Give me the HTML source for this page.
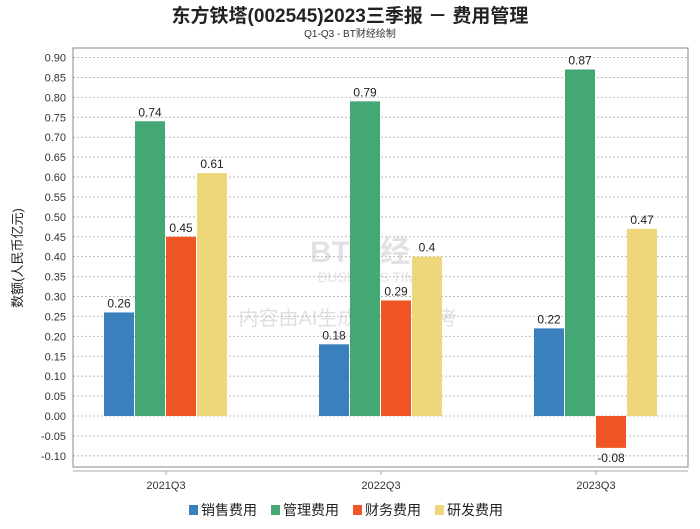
<!DOCTYPE html>
<html><head><meta charset="utf-8"><style>
body{margin:0;background:#fff;font-family:"Liberation Sans","Noto Sans CJK SC",sans-serif}
</style></head><body>
<svg id="c" width="700" height="524" xmlns="http://www.w3.org/2000/svg" font-family="Liberation Sans, Noto Sans CJK SC, sans-serif">
<text x="350" y="22" text-anchor="middle" font-size="19" font-weight="bold" fill="#222">东方铁塔(002545)2023三季报 － 费用管理</text>
<text x="350" y="37" text-anchor="middle" font-size="10" fill="#333">Q1-Q3 - BT财经绘制</text>
<text transform="translate(22,258) rotate(-90)" text-anchor="middle" font-size="13" fill="#222">数额(人民币亿元)</text>
<g opacity="0.18"><text x="310" y="262" font-size="30" font-weight="bold" fill="#667">BT财经</text><text x="318" y="282" font-size="14" fill="#667">BUSINESS TIMES</text><text x="348" y="325" text-anchor="middle" font-size="20" fill="#555">内容由AI生成，仅供参考</text></g>
<g id="grid"></g><g id="bars"></g>
<rect x="73" y="48" width="615" height="419" fill="none" stroke="#888"/>
<line x1="73" y1="471" x2="688" y2="471" stroke="#aaa"/>
<g id="legend"></g>
</svg>
<script>
const categories=["2021Q3","2022Q3","2023Q3"];
const seriesNames=["销售费用","管理费用","财务费用","研发费用"];
const colors=["#3a80bd","#44a874","#f05526","#edd77a"];
const sales=[0.26,0.18,0.22];
const admin=[0.74,0.79,0.87];
const finance=[0.45,0.29,-0.08];
const rnd=[0.61,0.4,0.47];
const labels=[["0.26","0.18","0.22"],["0.74","0.79","0.87"],["0.45","0.29","-0.08"],["0.61","0.4","0.47"]];
const ticks=[0.9,0.85,0.8,0.75,0.7,0.65,0.6,0.55,0.5,0.45,0.4,0.35,0.3,0.25,0.2,0.15,0.1,0.05,0,-0.05,-0.1];
const series=[sales,admin,finance,rnd];
const NS="http://www.w3.org/2000/svg";
const y=v=>416-v*398.3;
const xc=i=>166+i*215;
function mk(t,a,p){const e=document.createElementNS(NS,t);for(const k in a)e.setAttribute(k,a[k]);p.appendChild(e);return e;}
const g=document.getElementById('grid');
ticks.forEach(t=>{
 const l=mk('line',{x1:73,x2:688,y1:y(t),y2:y(t),stroke:'#bbb','stroke-dasharray':'2,2'},g);
 
 
 const tx=mk('text',{x:66,y:y(t)+4,'text-anchor':'end','font-size':11,fill:'#333'},g);
 tx.textContent=t.toFixed(2);
 
 
});
categories.forEach((c,i)=>{
 const tk=mk('line',{x1:xc(i),x2:xc(i),y1:471,y2:475,stroke:'#aaa'},g);
 
 
 const tx=mk('text',{x:xc(i),y:489,'text-anchor':'middle','font-size':11,fill:'#333'},g);
 tx.textContent=c;
 
 
});
const b=document.getElementById('bars');
series.forEach((s,j)=>{s.forEach((v,i)=>{
 const x=xc(i)-62+j*31;
 const r=mk('rect',{x:x,y:Math.min(y(v),y(0)),width:30,height:Math.abs(y(v)-y(0)),fill:colors[j]},b);
 
 
 const ty=v>=0?y(v)-5:y(v)+14;
 const t=mk('text',{x:x+15,y:ty,'text-anchor':'middle','font-size':12,fill:'#222'},b);
 t.textContent=labels[j][i];
 
 
});});
const lg=document.getElementById('legend');
const lx=[189,271,353,435];
seriesNames.forEach((n,j)=>{
 const r=mk('rect',{x:lx[j],y:505,width:9,height:10,fill:colors[j]},lg);
 
 
 const t=mk('text',{x:lx[j]+12,y:515,'font-size':14,fill:'#222'},lg);
 t.textContent=n;
 
 
});
</script>
</body></html>
